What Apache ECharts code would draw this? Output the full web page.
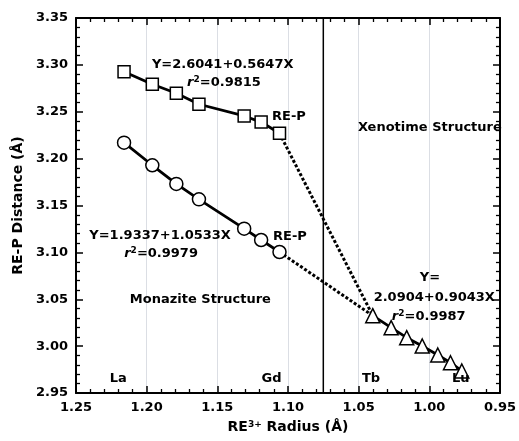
<!DOCTYPE html>
<html><head><meta charset="utf-8">
<script src="https://cdn.jsdelivr.net/npm/echarts@6/dist/echarts.min.js"></script>
<style>html,body{margin:0;padding:0;background:#fff}#c{width:519px;height:441px}</style>
</head><body><div id="c"></div>
<script>
// Data (RE3+ radius in Å, RE-P distance in Å)
const squareX = [1.216, 1.196, 1.179, 1.163, 1.131, 1.119, 1.106];
const squareY = [3.2927, 3.2793, 3.2697, 3.2580, 3.2455, 3.2390, 3.2270];
const circleX = [1.216, 1.196, 1.179, 1.163, 1.131, 1.119, 1.106];
const circleY = [3.2170, 3.1929, 3.1730, 3.1566, 3.1253, 3.1132, 3.1004];
const triangleX = [1.040, 1.027, 1.016, 1.005, 0.994, 0.985, 0.977];
const triangleY = [3.0325, 3.0197, 3.0090, 3.0001, 2.9905, 2.9823, 2.9735];
const boundaryX = 1.075;
const xTicks = [0.95, 1.00, 1.05, 1.10, 1.15, 1.20, 1.25];
const yTicks = [2.95, 3.00, 3.05, 3.10, 3.15, 3.20, 3.25, 3.30, 3.35];

// Annotations: [x, y, text] in data coordinates
const notes = [
  [1.1462, 3.2999, 'Y=2.6041+0.5647X'],
  [1.1453, 3.2807, '{i|r}{s|2}=0.9815'],
  [1.0993, 3.2444, 'RE-P'],
  [0.9996, 3.2327, 'Xenotime Structure'],
  [1.1905, 3.1175, 'Y=1.9337+1.0533X'],
  [1.1898, 3.0983, '{i|r}{s|2}=0.9979'],
  [1.0986, 3.1164, 'RE-P'],
  [1.1620, 3.0492, 'Monazite Structure'],
  [1.2201, 2.9649, 'La'],
  [1.1116, 2.9649, 'Gd'],
  [1.0412, 2.9649, 'Tb'],
  [0.9778, 2.9649, 'Lu'],
  [0.9996, 3.0727, 'Y='],
  [0.9965, 3.0513, '2.0904+0.9043X'],
  [1.0004, 3.0311, '{i|r}{s|2}=0.9987']
];

const FONT = 'DejaVu Sans';
const zip = (a, b) => a.map((v, i) => [v, b[i]]);
const chart = echarts.init(document.getElementById('c'));

const xMin = Math.min(...xTicks), xMax = Math.max(...xTicks);
const yMin = Math.min(...yTicks), yMax = Math.max(...yTicks);

const tickStyle = {show: true, inside: true, length: 7, lineStyle: {color: '#000', width: 1.5}};
const minorStyle = {show: true, splitNumber: 5, length: 4, lineStyle: {color: '#000', width: 1.3}};
const lineStyleAx = {show: true, lineStyle: {color: '#000', width: 2}};

const xAxis0 = {
  type: 'value', min: xMin, max: xMax, interval: 0.05, inverse: true,
  axisLine: lineStyleAx, axisTick: tickStyle, minorTick: minorStyle, splitLine: {show: false},
  axisLabel: {color: '#000', fontFamily: FONT, fontWeight: 'bold', fontSize: 13, margin: 8,
    formatter: v => Number(v).toFixed(2)},
  name: '{a|RE}{s|3+}{a| Radius (Å)}', nameLocation: 'middle', nameGap: 27,
  nameTextStyle: {rich: {
    a: {fontFamily: FONT, fontWeight: 'bold', fontSize: 14, color: '#000'},
    s: {fontFamily: FONT, fontWeight: 'bold', fontSize: 9, color: '#000', verticalAlign: 'top', padding: [0,0,6,0]}
  }}
};
const xAxis1 = {
  type: 'value', position: 'top', min: xMin, max: xMax, interval: 0.05, inverse: true,
  axisLine: lineStyleAx, axisTick: tickStyle, minorTick: minorStyle,
  axisLabel: {show: false}
};
const yAxis0 = {
  type: 'value', min: yMin, max: yMax, interval: 0.05,
  axisLine: lineStyleAx, axisTick: tickStyle, minorTick: minorStyle, splitLine: {show: false},
  axisLabel: {color: '#000', fontFamily: FONT, fontWeight: 'bold', fontSize: 13, margin: 8,
    formatter: v => Number(v).toFixed(2)},
  name: 'RE-P Distance (Å)', nameLocation: 'middle', nameGap: 47,
  nameTextStyle: {fontFamily: FONT, fontWeight: 'bold', fontSize: 14, color: '#000'}
};
const yAxis1 = {
  type: 'value', position: 'right', min: yMin, max: yMax, interval: 0.05,
  axisLine: lineStyleAx, axisTick: tickStyle, minorTick: minorStyle,
  splitLine: {show: false},
  axisLabel: {show: false}
};

chart.setOption({
  animation: false,
  grid: {left: 76, right: 17, top: 18, bottom: 48},
  xAxis: [xAxis0, xAxis1],
  yAxis: [yAxis0, yAxis1],
  series: [
    {type: 'line', data: [[boundaryX, yMin], [boundaryX, yMax]], symbol: 'none',
      lineStyle: {color: '#000', width: 1.5}},
    {type: 'line', data: [[squareX[squareX.length-1], squareY[squareY.length-1]], [triangleX[0], triangleY[0]]],
      symbol: 'none', lineStyle: {color: '#000', width: 3, type: [3, 2]}},
    {type: 'line', data: [[circleX[circleX.length-1], circleY[circleY.length-1]], [triangleX[0], triangleY[0]]],
      symbol: 'none', lineStyle: {color: '#000', width: 3, type: [3, 2]}},
    {type: 'line', data: zip(squareX, squareY), symbol: 'rect', symbolSize: 12,
      itemStyle: {color: '#fff', borderColor: '#000', borderWidth: 1.5},
      lineStyle: {color: '#000', width: 2.8}},
    {type: 'line', data: zip(circleX, circleY), symbol: 'circle', symbolSize: 13,
      itemStyle: {color: '#fff', borderColor: '#000', borderWidth: 1.5},
      lineStyle: {color: '#000', width: 2.8}},
    {type: 'line', data: zip(triangleX, triangleY), symbol: 'triangle', symbolSize: 14,
      itemStyle: {color: '#fff', borderColor: '#000', borderWidth: 1.5},
      lineStyle: {color: '#000', width: 2.8}}
  ]
});

const rich = {
  i: {fontFamily: FONT, fontWeight: 'bold', fontStyle: 'italic', fontSize: 13, fill: '#000'},
  s: {fontFamily: FONT, fontWeight: 'bold', fontSize: 9, fill: '#000', verticalAlign: 'top', padding: [0,0,6,0]}
};
const graphics = notes.map(n => {
  const p = chart.convertToPixel({xAxisIndex: 0, yAxisIndex: 0}, [n[0], n[1]]);
  return {type: 'text', x: p[0], y: p[1], z: 10,
    style: {text: n[2], fontFamily: FONT, fontWeight: 'bold', fontSize: 13, fill: '#000',
      align: 'center', verticalAlign: 'middle', rich: rich}};
});
chart.setOption({graphic: graphics});
</script></body></html>
